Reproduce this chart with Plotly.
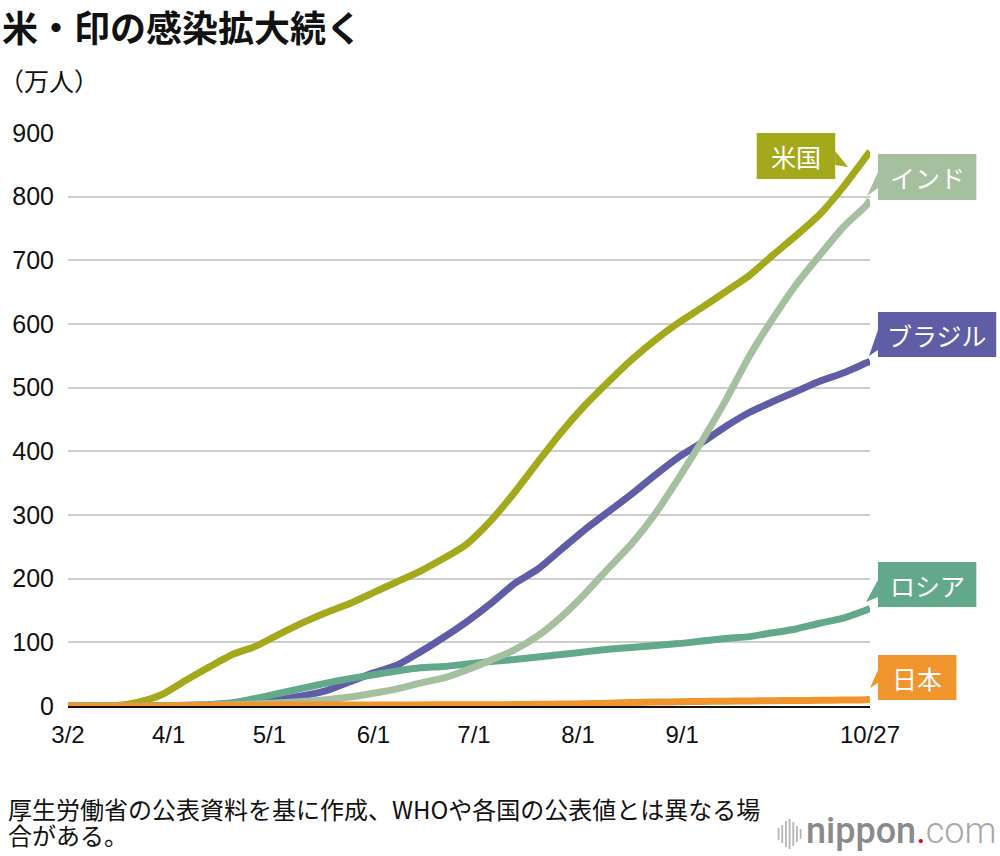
import plotly.graph_objects as go

# ---------------- data (万人) ----------------
dates = ["2020-03-02", "2020-03-09", "2020-03-16", "2020-03-23", "2020-03-30", "2020-04-06",
         "2020-04-13", "2020-04-20", "2020-04-27", "2020-05-04", "2020-05-11", "2020-05-18",
         "2020-05-25", "2020-06-01", "2020-06-08", "2020-06-15", "2020-06-22", "2020-06-29",
         "2020-07-06", "2020-07-13", "2020-07-20", "2020-07-27", "2020-08-03", "2020-08-10",
         "2020-08-17", "2020-08-24", "2020-08-31", "2020-09-07", "2020-09-14", "2020-09-21",
         "2020-09-28", "2020-10-05", "2020-10-12", "2020-10-19", "2020-10-26", "2020-10-27"]

us = [0, 0.1, 0.4, 6, 18, 40, 61, 81, 94, 113, 131, 147, 161, 178, 195, 212, 232, 255,
      291, 335, 383, 430, 472, 509, 544, 575, 602, 626, 651, 676, 708, 739, 772, 815, 864, 871]
brazil = [0, 0, 0, 0.1, 0.4, 1, 2, 4, 6, 10, 16, 24, 38, 52, 64, 85, 108, 133,
          161, 192, 215, 246, 277, 305, 333, 363, 391, 414, 439, 461, 478, 494, 510, 523, 539, 541]
india = [0, 0, 0, 0, 0.1, 0.5, 1, 2, 3, 5, 7, 10, 14, 20, 27, 36, 44, 57,
         72, 88, 110, 140, 176, 216, 255, 302, 358, 417, 480, 549, 608, 662, 708, 752, 787, 795]
russia = [0, 0, 0, 0, 0.2, 0.6, 2, 5, 12, 20, 28, 36, 43, 49, 55, 60, 62, 66,
          70, 73, 77, 81, 85, 89, 92, 95, 98, 102, 106, 109, 115, 121, 130, 138, 151, 153]
japan = [0.03, 0.05, 0.08, 0.11, 0.19, 0.4, 0.8, 1.1, 1.35, 1.5, 1.6, 1.65, 1.68, 1.7, 1.73, 1.76, 1.8, 1.87,
         1.98, 2.2, 2.6, 3.0, 3.6, 4.5, 5.4, 6.1, 6.8, 7.2, 7.6, 7.9, 8.3, 8.6, 9.0, 9.4, 9.8, 10.5]

tick_dates = ["2020-03-02", "2020-04-01", "2020-05-01", "2020-06-01", "2020-07-01",
              "2020-08-01", "2020-09-01", "2020-10-27"]
tick_labels = ["3/2", "4/1", "5/1", "6/1", "7/1", "8/1", "9/1", "10/27"]
y_ticks = [0, 100, 200, 300, 400, 500, 600, 700, 800, 900]

names = ["米国", "ブラジル", "ロシア", "インド", "日本"]
colors = {"米国": "#a4a91c", "インド": "#a5c09e", "ブラジル": "#5e5da6",
          "ロシア": "#62a88b", "日本": "#f0952d"}
series = {"米国": us, "ブラジル": brazil, "ロシア": russia, "インド": india, "日本": japan}

# ---------------- layout helpers ----------------
W, H = 1000, 856
L, R, T, B = 63, 870, 133, 706


def px(x):
    return (x - L) / (R - L)


def py(y):
    return (B - y) / (B - T)


JP = "Noto Sans CJK JP"
NUM = "Liberation Sans, Noto Sans CJK JP"

fig = go.Figure()
for n in names:
    fig.add_trace(go.Scatter(x=dates, y=series[n], mode="lines", name=n,
                             line=dict(color=colors[n], width=7, shape="spline", smoothing=0.6),
                             hoverinfo="skip", showlegend=False))

shapes = []
annotations = []

# label boxes with pointers: (name, box x0, y0, x1, y1, triangle points)
boxes = [
    ("米国", 756, 133, 835, 179, [(835, 151), (848, 167), (835, 165)]),
    ("インド", 878, 154, 977, 200, [(878, 172), (867, 196), (878, 188)]),
    ("ブラジル", 878, 312, 997, 357, [(878, 330), (869, 356), (878, 350)]),
    ("ロシア", 878, 562, 977, 607, [(878, 580), (866, 602), (878, 597)]),
    ("日本", 878, 655, 957, 700, [(878, 670), (870, 688), (878, 683)]),
]
for n, x0, y0, x1, y1, tri in boxes:
    c = colors[n]
    shapes.append(dict(type="rect", xref="paper", yref="paper", x0=px(x0), x1=px(x1),
                       y0=py(y1), y1=py(y0), fillcolor=c, line=dict(width=0), layer="above"))
    path = "M {} {} L {} {} L {} {} Z".format(*[v for p in tri for v in (px(p[0]), py(p[1]))])
    shapes.append(dict(type="path", xref="paper", yref="paper", path=path,
                       fillcolor=c, line=dict(width=0), layer="above"))
    annotations.append(dict(xref="paper", yref="paper", x=px((x0 + x1) / 2), y=py((y0 + y1) / 2),
                            text=n, showarrow=False, xanchor="center", yanchor="middle",
                            font=dict(family=JP, size=25, color="white")))

# unit label
annotations.append(dict(xref="paper", yref="paper", x=px(-8), y=py(80), text="（万人）",
                        showarrow=False, xanchor="left", yanchor="middle",
                        font=dict(family=JP, size=25, color="#111111")))
# footer
annotations.append(dict(xref="paper", yref="paper", x=px(1), y=py(808),
                        text="厚生労働省の公表資料を基に作成、WHOや各国の公表値とは異なる場",
                        showarrow=False, xanchor="left", yanchor="middle", align="left",
                        font=dict(family=JP, size=24, color="#111111")))
annotations.append(dict(xref="paper", yref="paper", x=px(1), y=py(834),
                        text="合がある。",
                        showarrow=False, xanchor="left", yanchor="middle", align="left",
                        font=dict(family=JP, size=24, color="#111111")))
# logo
annotations.append(dict(xref="paper", yref="paper", x=px(999), y=py(831),
                        text="<span style='font-weight:500'>nippon</span><span style='color:#e60012'>.</span>"
                             "<span style='color:#a8a8a8;font-weight:300'>com</span>",
                        showarrow=False, xanchor="right", yanchor="middle",
                        font=dict(family="Roboto", size=36, color="#8a8a8a")))
bar_h = [12, 18, 26, 30, 24, 16, 10]
for i, h in enumerate(bar_h):
    xx = 778 + i * 3.7
    shapes.append(dict(type="line", xref="paper", yref="paper", x0=px(xx), x1=px(xx),
                       y0=py(834 + h / 2), y1=py(834 - h / 2),
                       line=dict(color="#b5b5b5", width=1.8)))

fig.update_layout(
    width=W, height=H, autosize=False,
    margin=dict(l=L, r=W - R, t=T, b=H - B),
    paper_bgcolor="white", plot_bgcolor="white",
    title=dict(text="米・印の感染拡大続く", x=0.002, xanchor="left", y=1 - 29 / H, yanchor="middle",
               xref="container", yref="container",
               font=dict(family=JP, size=36, color="#111111", weight="bold")),
    xaxis=dict(type="date", range=[dates[0], dates[-1]], tickvals=tick_dates, ticktext=tick_labels,
               showgrid=False, zeroline=False, showline=True, linecolor="#111111", linewidth=2,
               layer="below traces", ticks="", ticklabelstandoff=6,
               tickfont=dict(family=NUM, size=24, color="#111111")),
    yaxis=dict(range=[0, 900], tickvals=y_ticks, showgrid=True, gridcolor="#cdcdcd", gridwidth=2,
               zeroline=False, showline=False, ticks="", ticklabelstandoff=13,
               tickfont=dict(family=NUM, size=25, color="#111111")),
    shapes=shapes, annotations=annotations,
)

fig.write_html("out.html")
